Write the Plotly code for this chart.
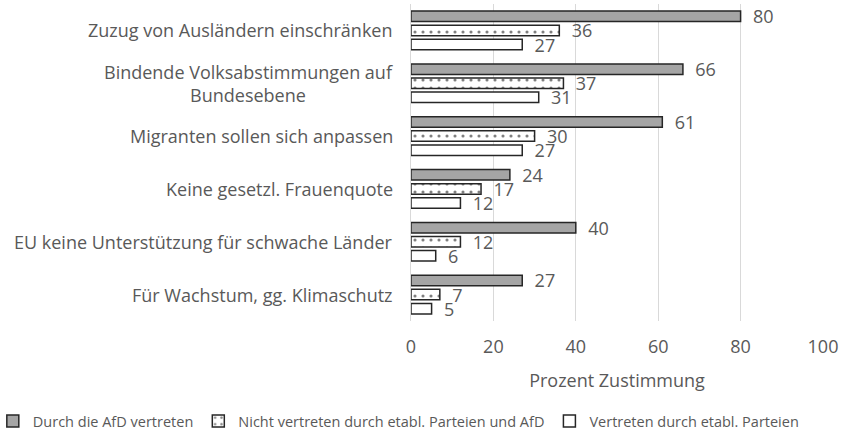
import plotly.graph_objects as go

categories = [
    "Zuzug von Ausländern einschränken",
    "Bindende Volksabstimmungen auf<br>Bundesebene",
    "Migranten sollen sich anpassen",
    "Keine gesetzl. Frauenquote",
    "EU keine Unterstützung für schwache Länder",
    "Für Wachstum, gg. Klimaschutz",
]
series_names = [
    "Durch die AfD vertreten",
    "Nicht vertreten durch etabl. Parteien und AfD",
    "Vertreten durch etabl. Parteien",
]
afd = [80, 66, 61, 24, 40, 27]
nicht = [36, 37, 30, 17, 12, 7]
etabl = [27, 31, 27, 12, 6, 5]
x_ticks = [0, 20, 40, 60, 80, 100]

FONT = "Open Sans"
GREY = "#595959"

fig = go.Figure()
styles = [
    dict(color="#A5A5A5", pattern=None),
    dict(color="white", pattern=dict(shape=".", fgcolor="#000000", bgcolor="white", size=8, solidity=0.12)),
    dict(color="white", pattern=None),
]
for name, vals, st in zip(series_names, [afd, nicht, etabl], styles):
    marker = dict(color=st["color"], line=dict(color="#262626", width=1.5))
    if st["pattern"]:
        marker["pattern"] = st["pattern"]
    fig.add_trace(go.Bar(
        name=name, y=categories, x=vals, orientation="h",
        marker=marker,
        text=[f"  {v}" for v in vals], textposition="outside",
        constraintext="none",
        textfont=dict(family=FONT, size=18, color=GREY),
        cliponaxis=False,
    ))

for c in categories:
    fig.add_annotation(
        x=-0.04, xref="paper", y=c, yref="y", text=c, showarrow=False,
        xanchor="right", align="center",
        font=dict(family=FONT, size=18, color=GREY),
    )

fig.update_layout(
    width=841, height=431,
    margin=dict(l=411, r=18, t=4, b=110, autoexpand=False),
    barmode="group", bargap=0.2, bargroupgap=0.25,
    plot_bgcolor="white", paper_bgcolor="white",
    font=dict(family=FONT, color=GREY),
    legend=dict(orientation="h", x=-1.015, xref="paper", xanchor="left",
                y=-0.265, yref="paper", yanchor="top",
                font=dict(family=FONT, size=14.5, color="#595959"),
                itemwidth=30, traceorder="normal"),
    xaxis=dict(range=[0, 100], tickvals=x_ticks, showgrid=True,
               gridcolor="#D9D9D9", gridwidth=1, zeroline=False,
               automargin=False, ticklabelstandoff=13,
               tickfont=dict(family=FONT, size=18, color=GREY),
               title=dict(text="Prozent Zustimmung", font=dict(family=FONT, size=18, color=GREY), standoff=17),
               showline=False),
    yaxis=dict(autorange="reversed", showticklabels=False, showline=True,
               automargin=False,
               linecolor="#D9D9D9", linewidth=1, ticks=""),
)
fig.write_html("out.html", config={"displayModeBar": False},
               post_script="document.body.style.margin='0px';")
